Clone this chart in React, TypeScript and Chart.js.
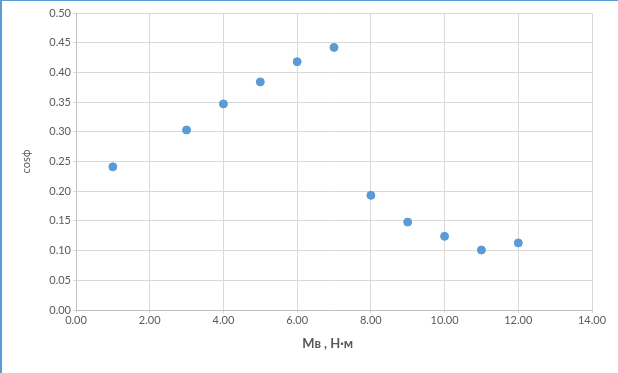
import React, { useEffect, useRef } from "react";
import { Chart, registerables } from "chart.js";

Chart.register(...registerables);

const torque = [1, 3, 4, 5, 6, 7, 8, 9, 10, 11, 12];
const cosPhi = [0.241, 0.303, 0.347, 0.384, 0.418, 0.442, 0.193, 0.148, 0.124, 0.101, 0.113];
const xTitle = "Мв , Н·м";
const yTitle = "cosф";

export default function App() {
  const ref = useRef<HTMLCanvasElement>(null);
  useEffect(() => {
    document.body.style.margin = "0";
    const ctx = ref.current!;
    const chart = new Chart(ctx, {
      type: "scatter",
      data: {
        datasets: [
          {
            data: torque.map((x, i) => ({ x, y: cosPhi[i] })),
            backgroundColor: "#5b9bd5",
            borderColor: "#5b9bd5",
            borderWidth: 1,
            pointRadius: 4,
          },
        ],
      },
      options: {
        animation: false,
        responsive: false,
        maintainAspectRatio: false,
        layout: { padding: { top: 13, right: 26, bottom: 0, left: 0 } },
        plugins: { legend: { display: false }, tooltip: { enabled: false } },
        scales: {
          x: {
            type: "linear",
            min: 0,
            max: 14,
            afterFit: (s: any) => { s.height = 63; },
            ticks: {
              stepSize: 2,
              color: "#595959",
              font: { family: "Lato", size: 11 },
              padding: 1,
              callback: (v: any) => Number(v).toFixed(2),
            },
            grid: { color: "#d9d9d9", tickLength: 3 },
            border: { color: "#bfbfbf" },
            title: {
              display: true,
              text: xTitle + "\u00a0\u00a0\u00a0\u00a0",
              color: "#595959",
              font: { family: "Lato", size: 13, weight: "bold" },
              padding: { top: 0, bottom: 21 },
            },
          },
          y: {
            type: "linear",
            min: 0,
            max: 0.5,
            afterFit: (s: any) => { s.width = 76; },
            ticks: {
              stepSize: 0.05,
              color: "#595959",
              font: { family: "Lato", size: 11 },
              padding: 2,
              callback: (v: any) => Number(v).toFixed(2),
            },
            grid: { color: "#d9d9d9", tickLength: 3 },
            border: { color: "#bfbfbf" },
            title: {
              display: true,
              text: yTitle,
              color: "#595959",
              font: { family: "Lato", size: 11 },
              padding: { top: 20, bottom: 0 },
            },
          },
        },
      },
    });
    return () => chart.destroy();
  }, []);
  return (
    <div style={{ position: "relative", width: 618, height: 373, background: "#fff" }}>
      <canvas ref={ref} width={618} height={373} style={{ display: "block" }} />
      <div
        style={{
          position: "absolute",
          left: 0,
          top: 0,
          width: 618,
          height: 373,
          boxSizing: "border-box",
          borderTop: "1px solid #5b9bd5",
          borderLeft: "2px solid #5b9bd5",
          pointerEvents: "none",
        }}
      />
    </div>
  );
}
